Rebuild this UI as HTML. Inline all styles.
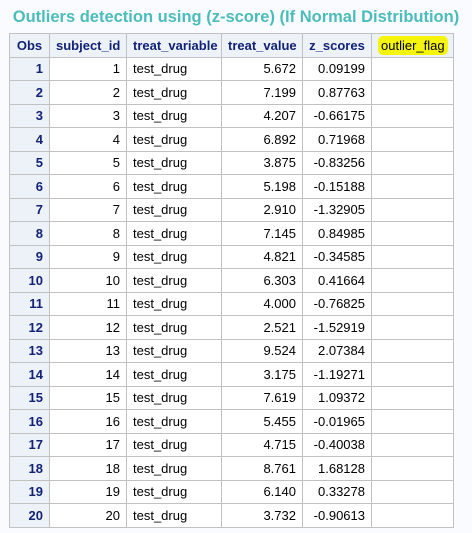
<!DOCTYPE html>
<html><head><meta charset="utf-8"><style>
html,body{margin:0;padding:0;width:472px;height:533px;background:#fafbfe;overflow:hidden;font-family:"Liberation Sans",Arial,sans-serif}
#title{position:absolute;left:0;top:8px;width:472px;text-align:center;color:#4bbcbc;font-weight:bold;font-size:16.5px}
table{position:absolute;left:9px;top:33px;border-collapse:collapse;table-layout:fixed;width:445px;font-size:13px;background:#fff}
td,th{border:1px solid #c1c1c1;height:22.5px;padding:0 6px;color:#000;font-weight:normal;white-space:nowrap;overflow:hidden}
th{background:#edf2f9;color:#112277;font-weight:bold;text-align:center}
td.o{background:#edf2f9;color:#112277;font-weight:bold;text-align:right}
td.r{text-align:right}
td.l{text-align:left}
.hl{background:#f4f40c;color:#000;border-radius:5px;padding:2px 3px;font-weight:normal}
</style></head><body>
<div id="title">Outliers detection using (z-score) (If Normal Distribution)</div>
<table>
<colgroup><col style="width:40px"><col style="width:77px"><col style="width:95px"><col style="width:81px"><col style="width:69px"><col style="width:82px"></colgroup>
<thead><tr>
<th>Obs</th>
<th>subject_id</th>
<th>treat_variable</th>
<th>treat_value</th>
<th>z_scores</th>
<th><span class="hl">outlier_flag</span></th>
</tr></thead>
<tbody id="tb"></tbody>
</table>
<script>
const vals=["5.672","7.199","4.207","6.892","3.875","5.198","2.910","7.145","4.821","6.303","4.000","2.521","9.524","3.175","7.619","5.455","4.715","8.761","6.140","3.732"];
const zs=["0.09199","0.87763","-0.66175","0.71968","-0.83256","-0.15188","-1.32905","0.84985","-0.34585","0.41664","-0.76825","-1.52919","2.07384","-1.19271","1.09372","-0.01965","-0.40038","1.68128","0.33278","-0.90613"];
const tb=document.getElementById('tb');
for(let i=0;i<vals.length;i++){
  const tr=document.createElement('tr');
  
  
  tr.innerHTML='<td class="o">'+(i+1)+'</td><td class="r">'+(i+1)+'</td><td class="l">test_drug</td><td class="r">'+vals[i]+'</td><td class="r">'+zs[i]+'</td><td></td>';
  tb.appendChild(tr);
}
</script>
</body></html>
